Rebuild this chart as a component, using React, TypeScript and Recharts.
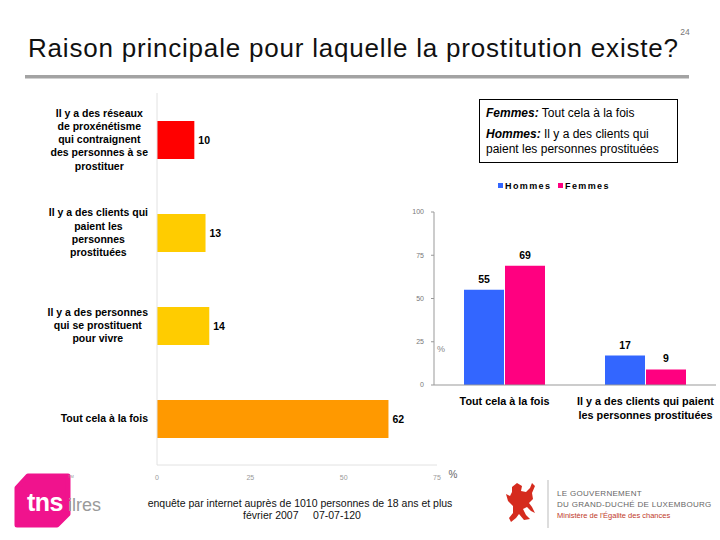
import React from 'react';
import { BarChart, Bar, XAxis, YAxis, LabelList, Cell } from 'recharts';

// ---------- Data ----------
const reasonKeys = ['reseaux', 'clients', 'vivre', 'tout'];
const reasonLines = [
  ['Il y a des réseaux', 'de proxénétisme', 'qui contraignent', 'des personnes à se', 'prostituer'],
  ['Il y a des clients qui', 'paient les', 'personnes', 'prostituées'],
  ['Il y a des personnes', 'qui se prostituent', 'pour vivre'],
  ['Tout cela à la fois'],
];
const reasonValues = [10, 13, 14, 62];
const reasonColors = ['#FF0000', '#FFCC00', '#FFCC00', '#FF9900'];
const totalTicks = [0, 25, 50, 75];

const genderCategories = ['Tout cela à la fois', 'Il y a des clients qui paient les personnes prostituées'];
const genderCategoryLines = [['Tout cela à la fois'], ['Il y a des clients qui paient', 'les personnes prostituées']];
const seriesNames = ['Hommes', 'Femmes'];
const seriesColors = ['#3366FF', '#FF0080'];
const hommesValues = [55, 17];
const femmesValues = [69, 9];
const genderTicks = [0, 25, 50, 75, 100];

const reasonData = reasonKeys.map((k, i) => ({ key: k, value: reasonValues[i] }));
const genderData = genderCategories.map((c, i) => ({ cat: c, Hommes: hommesValues[i], Femmes: femmesValues[i] }));

const FONT = '"Liberation Sans", Arial, sans-serif';
const LABEL_SIZE = 10.5;

let _canvas: HTMLCanvasElement | null = null;
function textWidth(t: string, font: string): number {
  try {
    if (!_canvas) _canvas = document.createElement('canvas');
    const ctx = _canvas.getContext('2d');
    if (!ctx) return t.length * 5.5;
    ctx.font = font;
    return ctx.measureText(t).width;
  } catch (e) {
    return t.length * 5.5;
  }
}

function ReasonTick(props: any) {
  const { x, y, payload } = props;
  const idx = reasonKeys.indexOf(payload.value);
  const lines = reasonLines[idx] || [];
  const w = Math.max(...lines.map((l) => textWidth(l, `bold ${LABEL_SIZE}px "Liberation Sans"`)));
  const cx = x - w / 2;
  const lh = 13.2;
  return (
    <text textAnchor="middle" fontSize={LABEL_SIZE} fontWeight="bold" fontFamily={FONT} fill="#000">
      {lines.map((l, i) => (
        <tspan key={i} x={cx} y={y + (i - (lines.length - 1) / 2) * lh + 3.7}>
          {l}
        </tspan>
      ))}
    </text>
  );
}

function GenderTick(props: any) {
  const { x, y, payload } = props;
  const idx = genderCategories.indexOf(payload.value);
  const lines = genderCategoryLines[idx] || [];
  return (
    <text textAnchor="middle" fontSize={10.8} fontWeight="bold" fontFamily={FONT} fill="#000">
      {lines.map((l, i) => (
        <tspan key={i} x={x} y={y + 12 + i * 14}>
          {l}
        </tspan>
      ))}
    </text>
  );
}

export default function App() {
  return (
    <div
      style={{
        position: 'absolute',
        left: 0,
        top: 0,
        width: 720,
        height: 540,
        background: '#fff',
        overflow: 'hidden',
        fontFamily: FONT,
      }}
    >
      {/* Left chart */}
      <div style={{ position: 'absolute', left: 0, top: 80 }}>
        <BarChart
          width={470}
          height={410}
          layout="vertical"
          data={reasonData}
          margin={{ top: 13, right: 33, bottom: 5, left: 0 }}
          barSize={38}
        >
          <XAxis
            type="number"
            domain={[0, 75]}
            ticks={totalTicks}
            interval={0}
            height={20}
            axisLine={{ stroke: '#e2e2e2' }}
            tickLine={false}
            tickMargin={4}
            tick={{ fontSize: 7, fill: '#999', fontFamily: FONT }}
          />
          <YAxis
            type="category"
            dataKey="key"
            width={157}
            interval={0}
            axisLine={{ stroke: '#e2e2e2' }}
            tickLine={false}
            tickSize={6}
            tickMargin={3}
            tick={<ReasonTick />}
          />
          <Bar dataKey="value" isAnimationActive={false}>
            {reasonData.map((d, i) => (
              <Cell key={d.key} fill={reasonColors[i]} />
            ))}
            <LabelList
              dataKey="value"
              position="right"
              offset={4}
              fill="#000"
              fontSize={10.5}
              fontWeight="bold"
              fontFamily={FONT}
            />
          </Bar>
        </BarChart>
      </div>

      {/* Right chart */}
      <div style={{ position: 'absolute', left: 380, top: 170 }}>
        <BarChart
          width={340}
          height={260}
          data={genderData}
          margin={{ top: 42, right: 4, bottom: 5, left: 0 }}
          barSize={40}
          barGap={1}
        >
          <XAxis
            dataKey="cat"
            height={40}
            interval={0}
            axisLine={{ stroke: '#999' }}
            tickLine={false}
            tick={<GenderTick />}
          />
          <YAxis
            type="number"
            domain={[0, 100]}
            ticks={genderTicks}
            interval={0}
            width={54}
            axisLine={{ stroke: '#999' }}
            tickLine={{ stroke: '#999' }}
            tickSize={3}
            tickMargin={7}
            tick={{ fontSize: 7, fill: '#777', fontFamily: FONT }}
          />
          {seriesNames.map((name, si) => (
            <Bar key={name} dataKey={name} fill={seriesColors[si]} isAnimationActive={false}>
              <LabelList
                dataKey={name}
                position="top"
                offset={7}
                fill="#000"
                fontSize={10.5}
                fontWeight="bold"
                fontFamily={FONT}
              />
            </Bar>
          ))}
        </BarChart>
      </div>

      {/* Overlay texts & decorations */}
      <svg
        width={720}
        height={540}
        style={{ position: 'absolute', left: 0, top: 0, pointerEvents: 'none' }}
        fontFamily={FONT}
      >
        <text x={685} y={35} fontSize={8.5} fill="#777" textAnchor="middle">24</text>
        <text x={28} y={57} fontSize={26} fill="#111" textLength={650} lengthAdjust="spacing">
          Raison principale pour laquelle la prostitution existe?
        </text>
        <rect x={25} y={75} width={664} height={3.5} fill="#a3a3a3" />

        {/* Note box */}
        <rect x={479.5} y={99.5} width={198} height={63} fill="#fff" stroke="#000" strokeWidth={1} />
        <text x={486} y={117} fontSize={12} fill="#000">
          <tspan fontWeight="bold" fontStyle="italic">Femmes:</tspan>
          <tspan> Tout cela à la fois</tspan>
        </text>
        <text x={486} y={138} fontSize={12} fill="#000">
          <tspan fontWeight="bold" fontStyle="italic">Hommes:</tspan>
          <tspan> Il y a des clients qui</tspan>
        </text>
        <text x={486} y={153} fontSize={12} fill="#000">paient les personnes prostituées</text>

        {/* Legend */}
        <rect x={498} y={183} width={5} height={5} fill={seriesColors[0]} />
        <text x={505} y={188.5} fontSize={9} fontWeight="bold" letterSpacing={1.4} fill="#000">{seriesNames[0]}</text>
        <rect x={558} y={183} width={5} height={5} fill={seriesColors[1]} />
        <text x={565} y={188.5} fontSize={9} fontWeight="bold" letterSpacing={1.4} fill="#000">{seriesNames[1]}</text>

        {/* Percent signs */}
        <text x={437} y={352} fontSize={9} fill="#888">%</text>
        <text x={453} y={478} fontSize={10} fill="#666" textAnchor="middle">%</text>

        {/* Footer */}
        <text x={300} y={507} fontSize={10.5} fill="#111" textAnchor="middle">
          enquête par internet auprès de 1010 personnes de 18 ans et plus
        </text>
        <text x={302} y={519} fontSize={10.5} fill="#111" textAnchor="middle" xmlSpace="preserve">
          {'février 2007     07-07-120'}
        </text>

        {/* tns ilres logo */}
        <path
          d="M28,476 L68,476 L68,514 L57,525 L17,525 L17,488 Z"
          fill="#F0138D"
          stroke="#F0138D"
          strokeWidth={5}
          strokeLinejoin="round"
        />
        <text x={27} y={511} fontSize={25} fontWeight="bold" fill="#fff" letterSpacing={-0.5}>tns</text>
        <text x={68} y={511} fontSize={18} fill="#9a9a9a">ilres</text>
        <text x={68} y={478} fontSize={4} fill="#999">TM</text>

        {/* Luxembourg government logo */}
        <path
          d="M512,487 L517,483 L522,486 L521,491 L526,492 L530,488 L532,483 L535,486 L532,493 L533,499 L529,503 L532,507 L535,513 L531,511 L527,507 L523,509 L526,515 L530,519 L524,520 L519,514 L516,518 L511,522 L509,518 L513,513 L513,506 L508,501 L506,494 L510,496 L512,492 Z"
          fill="#D52B1E"
        />
        <line x1={548} y1={480} x2={548} y2={528} stroke="#bbb" strokeWidth={1} />
        <text x={557} y={496} fontSize={8} fill="#666" letterSpacing={0.3}>LE GOUVERNEMENT</text>
        <text x={557} y={507} fontSize={8} fill="#666" letterSpacing={0.3}>DU GRAND-DUCHÉ DE LUXEMBOURG</text>
        <text x={557} y={518} fontSize={7.5} fill="#C0392B">Ministère de l'Égalite des chances</text>
      </svg>
    </div>
  );
}
